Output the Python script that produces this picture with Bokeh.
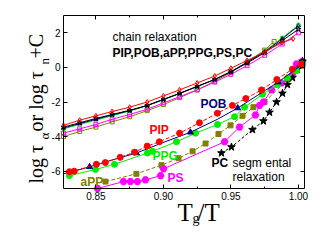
import math
from bokeh.plotting import figure
from bokeh.models import Range1d, FixedTicker, PrintfTickFormatter, LinearAxis, CustomJSTickFormatter
from bokeh.core.properties import value
from bokeh.embed import file_html
from bokeh.resources import INLINE

# ---- chain relaxation (log tau_n + C) ----
chain_x = [0.826, 0.838, 0.85, 0.862, 0.875, 0.888, 0.90, 0.912, 0.925, 0.938, 0.95, 0.962, 0.975, 0.988, 1.0]
pc_chain = [-3.45, -3.2, -2.95, -2.72, -2.48, -2.2, -1.85, -1.5, -1.1, -0.7, -0.25, 0.25, 0.85, 1.55, 2.2]
pob_chain = [-3.5, -3.25, -3.0, -2.75, -2.5, -2.2, -1.85, -1.5, -1.1, -0.7, -0.25, 0.3, 0.9, 1.65, 2.4]
ppg_chain = [-3.55, -3.3, -3.05, -2.8, -2.52, -2.22, -1.88, -1.52, -1.12, -0.7, -0.25, 0.3, 0.95, 1.7, 2.45]
ps_chain = [-3.8, -3.55, -3.3, -3.0, -2.72, -2.42, -2.05, -1.7, -1.3, -0.85, -0.4, 0.1, 0.7, 1.35, 2.0]
pip_chain_x = [0.826, 0.838, 0.85, 0.862, 0.875, 0.888, 0.90, 0.912, 0.925, 0.938, 0.95, 0.962, 0.975, 0.988, 0.996]
pip_chain = [-3.35, -3.05, -2.8, -2.55, -2.3, -2.0, -1.65, -1.3, -0.9, -0.5, -0.05, 0.4, 0.9, 1.45, 1.65]
app_chain_x = [0.826, 0.838, 0.85, 0.862, 0.875, 0.888, 0.90, 0.912, 0.925, 0.938, 0.95, 0.962, 0.975, 0.982]
app_chain = [-4.0, -3.7, -3.45, -3.15, -2.85, -2.5, -2.15, -1.75, -1.3, -0.8, -0.3, 0.3, 1.0, 1.5]

# ---- segmental relaxation (log tau_alpha) ----
pip_x = [0.8304, 0.834, 0.8504, 0.857, 0.868, 0.8786, 0.888, 0.897, 0.912, 0.9267, 0.940, 0.9511, 0.961, 0.9727, 0.984, 0.9956, 1.0023]
pip_y = [-6.03, -6.0, -5.6, -5.5, -5.2, -4.9, -4.55, -4.3, -3.8, -3.2, -2.65, -2.2, -1.8, -1.3, -0.7, -0.1, 0.2]
pob_x = [0.826, 0.8453, 0.862, 0.88, 0.8995, 0.92, 0.94, 0.955, 0.97, 0.985, 1.0, 1.004]
pob_y = [-6.15, -5.75, -5.35, -4.95, -4.35, -3.75, -3.0, -2.35, -1.6, -0.85, 0.0, 0.25]
ppg_x = [0.8304, 0.8497, 0.8638, 0.8882, 0.8919, 0.9097, 0.9238, 0.9401, 0.9527, 0.9601, 0.9734, 0.9845, 0.9919, 0.9986, 1.003]
ppg_y = [-6.26, -5.9, -5.6, -4.95, -4.85, -4.3, -3.8, -3.3, -2.85, -2.3, -1.55, -1.0, -0.6, -0.2, 0.2]
app_x = [0.8571, 0.880, 0.8986, 0.9112, 0.9216, 0.9312, 0.9408, 0.9497, 0.9586, 0.9667, 0.9749, 0.9919, 1.003]
app_y = [-6.6, -6.15, -5.65, -5.25, -4.85, -4.4, -3.85, -3.35, -2.8, -2.3, -2.0, -0.7, 0.1]
ps_x = [0.8512, 0.8704, 0.8756, 0.8808, 0.8867, 0.8979, 0.9001, 0.9453, 0.9564, 0.9682, 0.9712, 0.9741, 0.9801, 0.9875, 0.9956, 0.9986, 1.003]
ps_y = [-7.0, -6.6, -6.6, -6.6, -6.5, -6.26, -5.86, -4.3, -3.45, -2.75, -2.2, -2.0, -1.3, -0.9, -0.45, 0.2, 0.35]
pc_x = [0.943, 0.9504, 0.966, 0.9741, 0.9786, 0.9838, 0.9882, 0.9919, 0.9956, 0.9993, 1.003]
pc_y = [-4.95, -4.6, -3.6, -3.1, -2.6, -2.0, -1.5, -1.0, -0.6, -0.1, 0.35]

x_ticks = [0.85, 0.90, 0.95, 1.00]
x_minor = [0.875, 0.925, 0.975]
y_ticks = [-6, -4, -2, 0, 2]

# axes extents (data) and the full canvas view
X0, X1 = 0.826, 1.0045
Y0, Y1 = -7.0, 3.0

RED = "#ff0000"
NAVY = "#000080"
GREEN = "#00ee00"
OLIVE = "#808000"
MAG = "#ff00ff"
BLACK = "#000000"
SANS = "Liberation Sans"
SERIF = "Liberation Serif"

p = figure(frame_width=318, frame_height=232, x_range=Range1d(0.77934, 1.01488), y_range=Range1d(-9.543, 3.867),
           output_backend="svg", toolbar_location=None, min_border=0,
           x_axis_type=None, y_axis_type=None)
p.xgrid.visible = False
p.ygrid.visible = False
p.outline_line_color = None
p.background_fill_color = "white"
p.border_fill_color = "white"

def make_axis(loc, bounds, ticks, minor, fmt, show, side):
    ax = LinearAxis(fixed_location=loc, bounds=bounds)
    ax.ticker = FixedTicker(ticks=ticks, minor_ticks=minor)
    ax.major_tick_in = 4
    ax.major_tick_out = 0
    ax.minor_tick_in = 2
    ax.minor_tick_out = 0
    ax.axis_line_color = "black"
    ax.axis_line_width = 1
    ax.major_tick_line_color = "black"
    ax.minor_tick_line_color = "black"
    ax.major_label_text_font = SANS
    ax.major_label_text_font_size = "10px" if show else "0px"
    ax.major_label_text_color = "black"
    ax.major_label_standoff = 3 if show else 0
    ax.formatter = fmt
    p.add_layout(ax, side)

empty = CustomJSTickFormatter(code="return ''")
make_axis(Y0, (X0, X1), x_ticks, x_minor, PrintfTickFormatter(format="%.2f"), True, "below")
make_axis(X0, (Y0, Y1), y_ticks, [], PrintfTickFormatter(format="%d"), True, "left")
make_axis(Y1, (X0, X1), x_ticks, x_minor, empty, False, "above")
make_axis(X1, (Y0, Y1), y_ticks, [], empty, False, "right")

# chain relaxation curves (thin lines, small open markers)
def chain(xs, ys, color, marker, size=4):
    p.line(xs, ys, line_color=color, line_width=1)
    p.scatter(xs, ys, marker=marker, size=size, line_color=color, fill_color=None, line_width=1)

chain(app_chain_x, app_chain, OLIVE, "square", 4)
chain(chain_x, ps_chain, MAG, "square", 4)
chain(chain_x, ppg_chain, GREEN, "circle", 4)
chain(chain_x, pob_chain, NAVY, "triangle", 4)
chain(chain_x, pc_chain, BLACK, "star", 5)
chain(pip_chain_x, pip_chain, RED, "diamond", 5)

# segmental relaxation
p.line(app_x, app_y, line_color=OLIVE, line_width=1, line_dash="4 2")
p.scatter(app_x, app_y, marker="square", size=5, line_color=OLIVE, fill_color=OLIVE)
p.line(ps_x, ps_y, line_color=MAG, line_width=1)
p.scatter(ps_x, ps_y, marker="hex", size=7, line_color=MAG, fill_color=MAG)
p.line(pc_x, pc_y, line_color=BLACK, line_width=1, line_dash="3 2")
p.scatter(pc_x, pc_y, marker="star", size=8, line_color=BLACK, fill_color=BLACK)
p.line(ppg_x, ppg_y, line_color=GREEN, line_width=1)
p.scatter(ppg_x, ppg_y, marker="circle", size=6, line_color=GREEN, fill_color=GREEN)
p.line(pob_x, pob_y, line_color=NAVY, line_width=1)
p.scatter(pob_x[1:-1:2], pob_y[1:-1:2], marker="triangle", size=6, line_color=NAVY, fill_color=NAVY)
p.line(pip_x, pip_y, line_color=RED, line_width=1, line_dash="4 2")
p.scatter(pip_x, pip_y, marker="circle", size=6, line_color=RED, fill_color=RED)

# annotations
def txt(x, y, s, color="black", bold=False, size="12px", font=SANS, angle=0.0, baseline="middle"):
    p.text([x], [y], text=[s], text_color=color, text_font=value(font), text_font_size=size,
           text_font_style="bold" if bold else "normal", text_baseline=baseline, text_align="left",
           angle=angle)

txt(0.8623, 1.73, "chain relaxation")
txt(0.8623, 0.86, "PIP,POB,aPP,PPG,PS,PC", bold=True)
txt(0.9275, -2.14, "POB", NAVY, True)
txt(0.8897, -3.59, "PIP", RED, True)
txt(0.892, -5.15, "PPG", GREEN, True)
txt(0.8386, -6.6, "aPP", OLIVE, True)
txt(0.9031, -6.42, "PS", MAG, True)
txt(0.9357, -5.55, "PC", BLACK, True)
txt(0.9512, -5.5, "segm ental")
txt(0.9512, -6.36, "relaxation")

# axis titles (pieces for subscripts)
txt(0.91043, -8.387, "T", size="25px", font=SERIF, baseline="alphabetic")
txt(0.92154, -8.734, "g", size="14px", font=SERIF, baseline="alphabetic")
txt(0.92524, -8.387, "/T", size="25px", font=SERIF, baseline="alphabetic")

A = math.pi / 2
txt(0.80600, -6.711, "log \u03c4", size="20px", font=SERIF, angle=A, baseline="alphabetic")
txt(0.81192, -4.168, "\u03b1", size="13px", font=SERIF, angle=A, baseline="alphabetic")
txt(0.80600, -3.705, " or log \u03c4", size="20px", font=SERIF, angle=A, baseline="alphabetic")
txt(0.81192, 0.168, "n", size="13px", font=SERIF, angle=A, baseline="alphabetic")
txt(0.80600, 0.514, " +C", size="20px", font=SERIF, angle=A, baseline="alphabetic")

open("out.html", "w").write(file_html(p, INLINE))
